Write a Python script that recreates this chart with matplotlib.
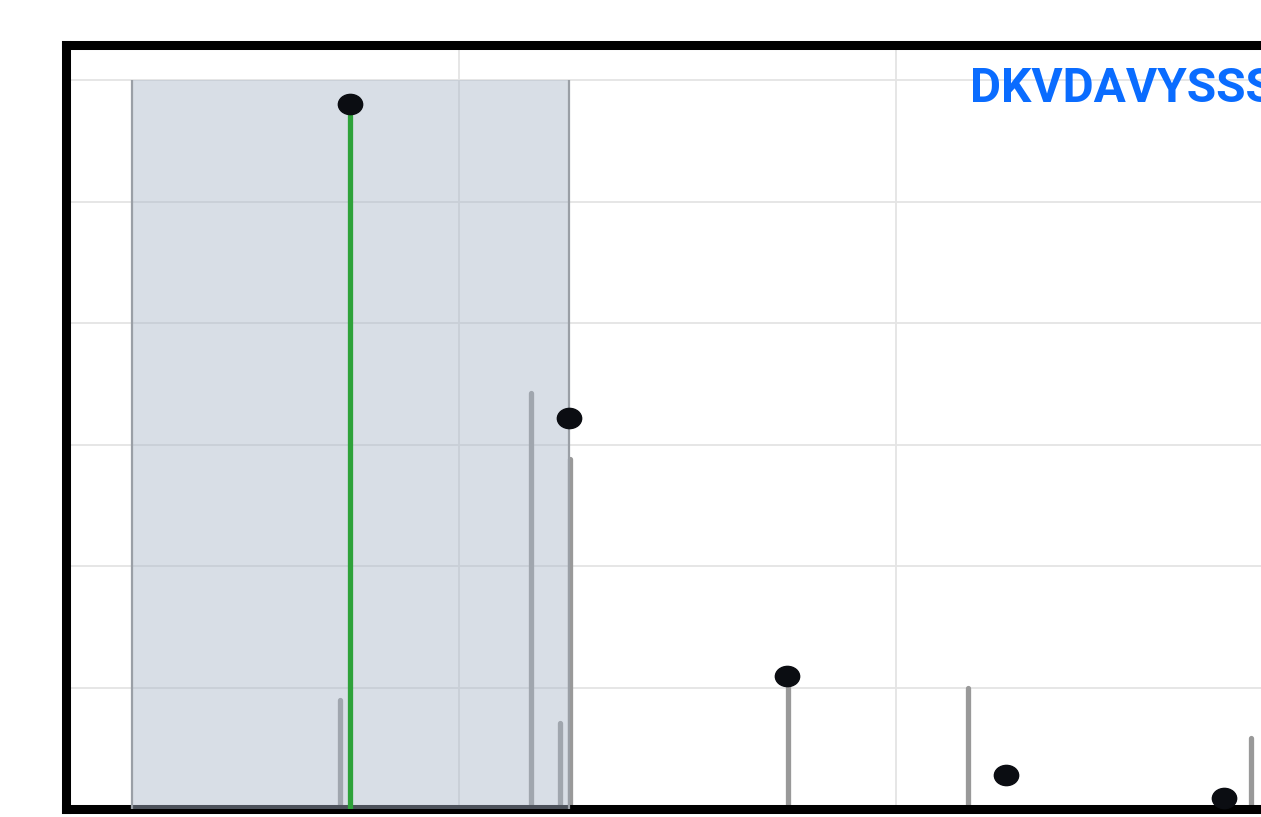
import numpy as np
import matplotlib
matplotlib.use("Agg")
import matplotlib.pyplot as plt
from matplotlib.path import Path
from matplotlib.transforms import Affine2D

# --- données (m/z, intensité relative) ---
peak_mz = [272.7, 316.5, 323.1, 325.4, 375.2, 416.3, 481.2]
peak_int = [17.9, 68.5, 14.2, 57.6, 21.9, 19.9, 11.7]

match_mz = [275.0]
match_int = [115.9]

theo_mz = [275.0, 325.0, 375.0, 425.0, 475.0]
theo_int = [116.0, 64.4, 21.9, 5.6, 1.8]

window = (225.0, 325.0)
window_top = 120.0
label = "DKVDAVYSSS"

W, H = 1261, 817
fig = plt.figure(figsize=(W / 100, H / 100), dpi=100)

# échelle: ~4.37 px par unité en x, 6.075 px par unité en y
x0, x1 = 210.0, 520.0
ax = fig.add_axes([66 / W, 8 / H, (x1 - x0) * 4.37 / W, (809 - 45) / H])
ax.set_xlim(x0, x1)
ax.set_ylim(0, (809 - 45) / 6.075)

ax.set_xticks(np.arange(300, 501, 100))
ax.set_yticks(np.arange(0, 121, 20))
ax.tick_params(left=False, bottom=False, labelleft=False, labelbottom=False)
ax.grid(True, color="#e4e4e4", linewidth=1.3, zorder=0)
ax.set_axisbelow(True)
for s in ax.spines.values():
    s.set_linewidth(6.5)
    s.set_color("black")

# pics observés (gris)
ax.vlines(peak_mz, 0, peak_int, color="#999999", linewidth=3.8,
          capstyle="round", zorder=2)

# fenêtre d'isolement
ax.fill_between(window, 0, window_top, color="#a9b6c8", alpha=0.45,
                linewidth=0, zorder=3)
ax.vlines(window, 0, window_top, color="#9a9fa6", linewidth=1.6, zorder=3)

# pic apparié (vert)
ax.vlines(match_mz, 0, match_int, color="#2ea23a", linewidth=3.8,
          capstyle="round", zorder=4)

# distribution isotopique théorique (points)
ellipse = Path.unit_circle().transformed(Affine2D().scale(1.2, 1.0))
ax.plot(theo_mz, theo_int, linestyle="none", marker=ellipse, markersize=17.5,
        color="#0b0d12", zorder=5)

ax.text(970 / W, 1 - 89 / H, label, transform=fig.transFigure,
        ha="left", va="center", fontsize=34.5, fontweight="bold",
        family=["Roboto", "DejaVu Sans"], color="#0a6cff")

fig.savefig("out.png", dpi=100)
